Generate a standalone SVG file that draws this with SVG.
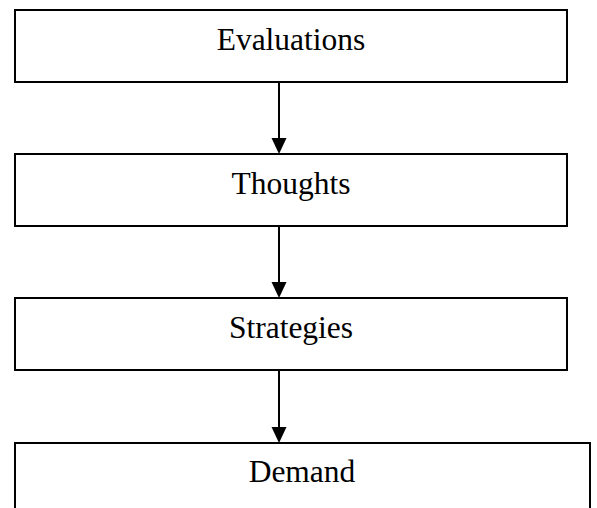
<svg xmlns="http://www.w3.org/2000/svg" width="597" height="508" viewBox="0 0 597 508">
<style>
.box{fill:#fff;stroke:#000;stroke-width:2}
.lbl{font-family:"Liberation Serif","Times New Roman",serif;font-size:31.5px;fill:#000;text-anchor:middle}
.conn line{stroke:#000;stroke-width:2}
.conn polygon{fill:#000}
</style>
<rect width="597" height="508" fill="#fff"/>
<g id="evaluations"><rect class="box" x="15" y="10" width="552" height="72"/><text class="lbl" x="291" y="50">Evaluations</text></g>
<g id="thoughts"><rect class="box" x="15" y="154" width="552" height="72"/><text class="lbl" x="291" y="194">Thoughts</text></g>
<g id="strategies"><rect class="box" x="15" y="298" width="552" height="72"/><text class="lbl" x="291" y="338">Strategies</text></g>
<g id="demand"><rect class="box" x="15" y="443" width="575" height="80"/><text class="lbl" x="302" y="482">Demand</text></g>
<g id="connectors" class="conn">
<line x1="279" y1="82" x2="279" y2="140"/><polygon points="271.5,138 286.5,138 279,154"/>
<line x1="279" y1="226" x2="279" y2="284"/><polygon points="271.5,282 286.5,282 279,298"/>
<line x1="279" y1="370" x2="279" y2="429"/><polygon points="271.5,427 286.5,427 279,443"/>
</g>
</svg>
